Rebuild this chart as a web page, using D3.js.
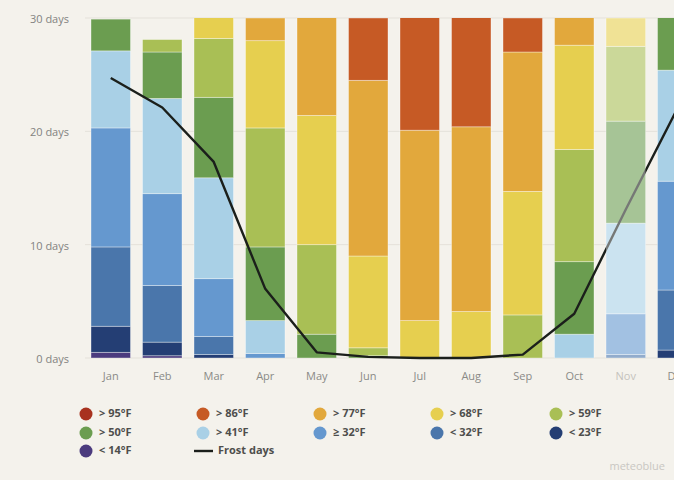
<!DOCTYPE html>
<html>
<head>
<meta charset="utf-8">
<script src="https://cdn.jsdelivr.net/npm/d3@7"></script>
<style>
  body { margin: 0; background: #f4f2ec; }
  svg { display: block; font-family: "Open Sans", "Noto Sans", sans-serif; }
</style>
</head>
<body>
<svg id="chart" width="674" height="480"></svg>
<script>
// months and temperature classes (days per month in each class)
const months = ["Jan", "Feb", "Mar", "Apr", "May", "Jun", "Jul", "Aug", "Sep", "Oct", "Nov", "Dec"];

const lt14 = [0.5, 0.2, 0, 0, 0, 0, 0, 0, 0, 0, 0, 0];
const lt23 = [2.3, 1.2, 0.3, 0, 0, 0, 0, 0, 0, 0, 0, 0.7];
const lt32 = [7.0, 5.0, 1.6, 0, 0, 0, 0, 0, 0, 0, 0.3, 5.3];
const ge32 = [10.5, 8.1, 5.1, 0.4, 0, 0, 0, 0, 0, 0, 3.6, 9.6];
const gt41 = [6.8, 8.4, 8.9, 2.9, 0, 0, 0, 0, 0, 2.1, 8.0, 9.8];
const gt50 = [2.8, 4.1, 7.1, 6.5, 2.1, 0.2, 0, 0, 0, 6.4, 9.0, 5.6];
const gt59 = [0, 1.1, 5.2, 10.5, 7.9, 0.7, 0, 0, 3.8, 9.9, 6.6, 0];
const gt68 = [0, 0, 2.8, 7.7, 11.4, 8.1, 3.3, 4.1, 10.9, 9.2, 2.5, 0];
const gt77 = [0, 0, 0, 2.0, 9.1, 15.5, 16.8, 16.3, 12.3, 3.4, 0, 0];
const gt86 = [0, 0, 0, 0, 0.5, 5.5, 10.9, 10.6, 3.0, 0, 0, 0];
const gt95 = [0, 0, 0, 0, 0, 0, 0, 0, 0, 0, 0, 0];

const frostDays = [24.7, 22.1, 17.3, 6.1, 0.5, 0.1, 0, 0, 0.3, 3.9, 13.1, 22.0];

const yTicks = [0, 10, 20, 30];

// series from bottom to top
const series = [
  {key: "lt14", label: "< 14°F", color: "#4b3b7e", values: lt14},
  {key: "lt23", label: "< 23°F", color: "#243e74", values: lt23},
  {key: "lt32", label: "< 32°F", color: "#4a76ab", values: lt32},
  {key: "ge32", label: "≥ 32°F", color: "#6598cf", values: ge32},
  {key: "gt41", label: "> 41°F", color: "#a9d0e6", values: gt41},
  {key: "gt50", label: "> 50°F", color: "#6b9d50", values: gt50},
  {key: "gt59", label: "> 59°F", color: "#a9bf55", values: gt59},
  {key: "gt68", label: "> 68°F", color: "#e6cf4f", values: gt68},
  {key: "gt77", label: "> 77°F", color: "#e2a83c", values: gt77},
  {key: "gt86", label: "> 86°F", color: "#c65a25", values: gt86},
  {key: "gt95", label: "> 95°F", color: "#a8321f", values: gt95}
];

const table = months.map((m, i) => {
  let row = {month: m};
  series.forEach(s => row[s.key] = s.values[i]);
  return row;
});

const svg = d3.select("#chart");
const plotLeft = 85, plotRight = 703, plotTop = 18, plotBottom = 358;

const x = d3.scaleBand().domain(months).range([plotLeft, plotRight]).paddingInner(0.233).paddingOuter(0.1165);
const y = d3.scaleLinear().domain([0, 30]).range([plotBottom, plotTop]);

const defs = svg.append("defs");
defs.append("clipPath").attr("id", "plotclip")
  .append("rect")
  .attr("x", plotLeft).attr("y", plotTop)
  .attr("width", plotRight - plotLeft).attr("height", plotBottom - plotTop);

// grid lines
svg.append("g").selectAll("line").data(yTicks).join("line")
  .attr("x1", plotLeft).attr("x2", plotRight)
  .attr("y1", d => y(d)).attr("y2", d => y(d))
  .attr("stroke", "#e4e1da").attr("stroke-width", 1);

// y labels
svg.append("g").selectAll("text").data(yTicks).join("text")
  .attr("x", 69).attr("y", d => y(d) + 2)
  .attr("text-anchor", "end").attr("dominant-baseline", "middle")
  .attr("font-size", 11).attr("fill", "#838381")
  .text(d => d + " days");

// stacked bars
const stack = d3.stack().keys(series.map(s => s.key));
const stacked = stack(table);
const colorOf = d3.scaleOrdinal().domain(series.map(s => s.key)).range(series.map(s => s.color));

svg.append("g").attr("clip-path", "url(#plotclip)")
  .selectAll("g").data(stacked).join("g")
  .attr("fill", d => colorOf(d.key))
  .selectAll("rect").data(d => d.filter(p => p[1] - p[0] > 0)).join("rect")
  .attr("x", d => x(d.data.month))
  .attr("width", x.bandwidth())
  .attr("y", d => y(d[1]))
  .attr("height", d => y(d[0]) - y(d[1]))
  .attr("stroke", "#ffffff").attr("stroke-opacity", 0.45).attr("stroke-width", 0.8);

// month labels (Nov is washed out by glare in the photo)
svg.append("g").selectAll("text").data(months).join("text")
  .attr("x", d => x(d) + x.bandwidth() / 2).attr("y", 377)
  .attr("text-anchor", "middle").attr("dominant-baseline", "middle")
  .attr("font-size", 11).attr("fill", d => d === "Nov" ? "#c4c2bc" : "#8a8a87")
  .text(d => d);

// frost days line
const line = d3.line()
  .x((d, i) => x(months[i]) + x.bandwidth() / 2)
  .y(d => y(d));

svg.append("path")
  .datum(frostDays)
  .attr("d", line)
  .attr("fill", "none")
  .attr("stroke", "#1b1f1b")
  .attr("stroke-width", 2.4)
  .attr("stroke-linejoin", "round");

// glare over the Nov bar
svg.append("rect")
  .attr("x", x("Nov")).attr("y", plotTop)
  .attr("width", x.bandwidth()).attr("height", plotBottom - plotTop)
  .attr("fill", "#ffffff").attr("fill-opacity", 0.4);

// legend
const legendItems = [
  "gt95", "gt86", "gt77", "gt68", "gt59",
  "gt50", "gt41", "ge32", "lt32", "lt23",
  "lt14", "frost"
];
const colX = [86, 203, 320, 437, 556];
const rowY = [414, 433, 451];

const legend = svg.append("g");
legendItems.forEach((k, i) => {
  const cx = colX[i % 5], cy = rowY[Math.floor(i / 5)];
  const g = legend.append("g");
  if (k === "frost") {
    g.append("line").attr("x1", cx - 9).attr("x2", cx + 10)
      .attr("y1", cy).attr("y2", cy)
      .attr("stroke", "#1b1f1b").attr("stroke-width", 2.4);
    g.append("text").attr("x", cx + 15).attr("y", cy)
      .attr("dominant-baseline", "middle")
      .attr("font-size", 11).attr("font-weight", "bold").attr("fill", "#4e4e4c")
      .text("Frost days");
  } else {
    const s = series.find(s => s.key === k);
    g.append("circle").attr("cx", cx).attr("cy", cy).attr("r", 6.5).attr("fill", s.color);
    g.append("text").attr("x", cx + 13).attr("y", cy)
      .attr("dominant-baseline", "middle")
      .attr("font-size", 11).attr("font-weight", "bold").attr("fill", "#4e4e4c")
      .text(s.label);
  }
});

// watermark
svg.append("text")
  .attr("x", 665).attr("y", 467)
  .attr("text-anchor", "end").attr("dominant-baseline", "middle")
  .attr("font-size", 11).attr("fill", "#c9c7c2")
  .text("meteoblue");
</script>
</body>
</html>
